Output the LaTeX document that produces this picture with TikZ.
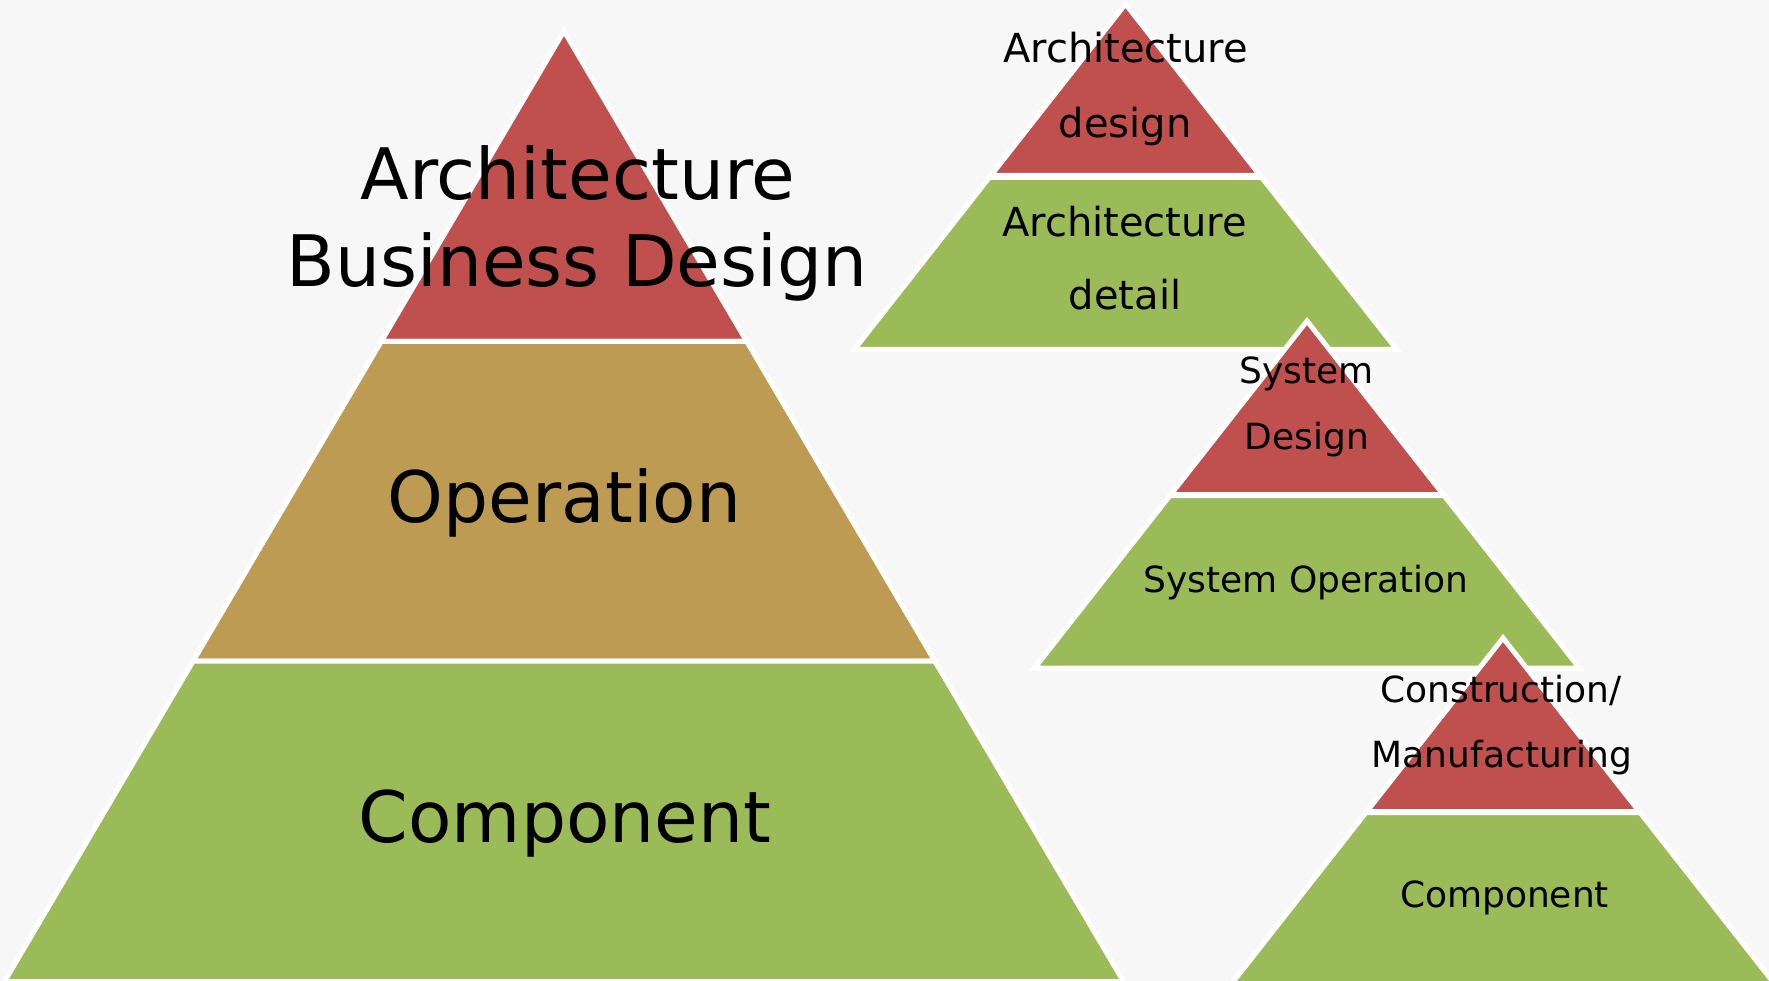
\documentclass[tikz,border=0pt]{standalone}
\usepackage{fontspec}
\setmainfont{DejaVu Sans}
\definecolor{bgcol}{HTML}{F7F7F7}
\definecolor{redband}{HTML}{C0504D}
\definecolor{tanband}{HTML}{BE9B53}
\definecolor{greenband}{HTML}{9BBB59}
\tikzset{
  band/.style={draw=white, line width=5pt, line join=miter},
  bigtext/.style={anchor=base, inner sep=0pt, font=\fontsize{71}{80}\selectfont},
  midtext/.style={anchor=base, inner sep=0pt, font=\fontsize{40}{46}\selectfont},
  smalltext/.style={anchor=base, inner sep=0pt, font=\fontsize{36}{42}\selectfont},
}
\begin{document}
\begin{tikzpicture}[x=1pt, y=-1pt]
\useasboundingbox (0,0) rectangle (1769,981);
\fill[bgcol] (0,0) rectangle (1769,981);

% Big pyramid
\path[band, fill=redband] (564,31) -- (746.8,341.5) -- (381.2,341.5) -- cycle;
\path[band, fill=tanband] (381.2,341.5) -- (746.8,341.5) -- (934.8,661) -- (193.2,661) -- cycle;
\path[band, fill=greenband] (193.2,661) -- (934.8,661) -- (1123.5,981.5) -- (4.5,981.5) -- cycle;

% Small pyramid 1
\path[band, fill=redband] (1125.5,4) -- (1260.1,175.5) -- (990.9,175.5) -- cycle;
\path[band, fill=greenband] (989.3,177.5) -- (1261.7,177.5) -- (1396.7,349.5) -- (854.3,349.5) -- cycle;

% Small pyramid 2
\path[band, fill=redband] (1307,321) -- (1443.2,494.5) -- (1170.8,494.5) -- cycle;
\path[band, fill=greenband] (1170,495.5) -- (1444,495.5) -- (1579.4,668) -- (1034.6,668) -- cycle;

% Small pyramid 3
\path[band, fill=redband] (1503,638) -- (1639.2,811.5) -- (1366.8,811.5) -- cycle;
\path[band, fill=greenband] (1366,812.5) -- (1640,812.5) -- (1775.4,985) -- (1230.6,985) -- cycle;

% Texts
\node[bigtext] (bArch) at (578,200) {Architecture};
\node[bigtext] (bBus) at (577,287) {Business Design};
\node[bigtext] (bOp) at (564.5,522) {Operation};
\node[bigtext] (bComp) at (565,842) {Component};

\node[midtext] (aArch) at (1125.5,63) {Architecture};
\node[midtext] (aDes) at (1125,138) {design};
\node[midtext] (dArch) at (1124.5,237) {Architecture};
\node[midtext] (dDet) at (1125,310) {detail};

\node[smalltext] (sSys) at (1306.5,383) {System};
\node[smalltext] (sDes) at (1307,449) {Design};
\node[smalltext] (sOp) at (1306,592) {System Operation};

\node[smalltext] (cCon) at (1501,702) {Construction/};
\node[smalltext] (cMan) at (1502,767) {Manufacturing};
\node[smalltext] (cComp) at (1504.5,907) {Component};
\end{tikzpicture}
\end{document}
